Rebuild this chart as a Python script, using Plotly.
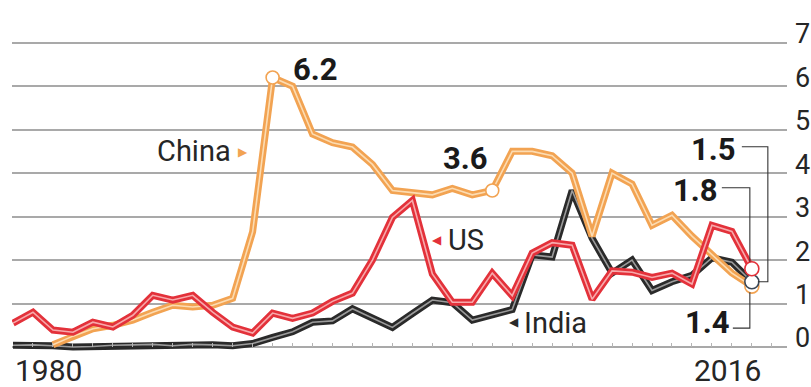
import plotly.graph_objects as go

# Foreign direct investment, net inflows (% of GDP)
years = list(range(1980, 2018))

us = [0.55, 0.80, 0.39, 0.34, 0.57, 0.46, 0.73, 1.19, 1.08, 1.19,
      0.80, 0.46, 0.32, 0.78, 0.66, 0.78, 1.05, 1.24, 2.00, 2.98,
      3.37, 1.68, 1.03, 1.03, 1.70, 1.18, 2.16, 2.40, 2.34, 1.10,
      1.75, 1.72, 1.60, 1.70, 1.45, 2.80, 2.66, 1.8]

china = [None, None, 0.05, 0.25, 0.42, 0.50, 0.62, 0.80, 0.96, 0.92,
         0.96, 1.12, 2.65, 6.2, 6.00, 4.90, 4.70, 4.60, 4.20, 3.60,
         3.55, 3.50, 3.65, 3.50, 3.6, 4.50, 4.50, 4.40, 4.00, 2.55,
         4.00, 3.75, 2.80, 3.03, 2.55, 2.12, 1.70, 1.4]

india = [0.04, 0.05, 0.03, 0.00, 0.01, 0.04, 0.05, 0.06, 0.03, 0.06,
         0.05, 0.03, 0.08, 0.22, 0.35, 0.57, 0.60, 0.88, 0.66, 0.45,
         0.77, 1.08, 1.02, 0.62, 0.74, 0.86, 2.12, 2.07, 3.60, 2.50,
         1.70, 2.00, 1.30, 1.50, 1.65, 2.05, 1.95, 1.5]

y_ticks = [0, 1, 2, 3, 4, 5, 6, 7]
x_labels = {1980: "1980", 2016: "2016"}

# Highlighted China points and end-of-series values
china_peak_year, china_mid_year = 1993, 2004
end_year = years[-1]

RED, RED_IN = "#e3313a", "#f7a9ab"
ORANGE, ORANGE_IN = "#f2a352", "#fcdcb2"
DARK, DARK_IN = "#2a2a2a", "#9b9b9b"
TEXT = "#262626"
FONT = "Roboto, 'Open Sans', sans-serif"

Y_MIN, Y_MAX = -0.46, 7.591
X_MIN, X_MAX = 1979.95, 2018.76

fig = go.Figure()


def cased_line(values, outer, inner):
    # thick coloured stroke with a thin pale core
    fig.add_trace(go.Scatter(x=years, y=values, mode="lines",
                             line=dict(color=outer, width=7),
                             connectgaps=False, hoverinfo="skip"))
    fig.add_trace(go.Scatter(x=years, y=values, mode="lines",
                             line=dict(color=inner, width=1.6),
                             connectgaps=False, hoverinfo="skip"))


cased_line(india, DARK, DARK_IN)
cased_line(china, ORANGE, ORANGE_IN)
cased_line(us, RED, RED_IN)


def ring(x, y, edge, size=13):
    fig.add_trace(go.Scatter(x=[x], y=[y], mode="markers",
                             marker=dict(symbol="circle", size=size, color="white",
                                         line=dict(color=edge, width=1.6)),
                             hoverinfo="skip"))


ci = years.index(china_peak_year)
cm = years.index(china_mid_year)
ring(china_peak_year, china[ci], ORANGE)
ring(china_mid_year, china[cm], ORANGE)
ring(end_year, china[-1], ORANGE, 14)
ring(end_year, india[-1], "#3b4858", 14)
ring(end_year, us[-1], RED, 14)

annotations = []


def value_label(x, y, text, xanchor, xshift, yshift):
    annotations.append(dict(x=x, y=y, xref="x", yref="y", text=f"<b>{text}</b>",
                            showarrow=False, xanchor=xanchor, yanchor="middle",
                            xshift=xshift, yshift=yshift,
                            font=dict(family=FONT, size=31, color="#1a1a1a")))


value_label(china_peak_year, china[ci], f"{china[ci]}", "left", 18, 8)
value_label(china_mid_year, china[cm], f"{china[cm]}", "right", -2, 32)
value_label(end_year, india[-1], f"{india[-1]}", "right", -14, 132)
value_label(end_year, us[-1], f"{us[-1]}", "right", -32, 78)
value_label(end_year, china[-1], f"{china[-1]}", "right", -20, -36)


# series names with small pointers
def name_label(x, y, text, xanchor):
    annotations.append(dict(x=x, y=y, xref="x", yref="y", xanchor=xanchor,
                            yanchor="middle", showarrow=False, text=text,
                            font=dict(family=FONT, size=29, color=TEXT)))


def pointer(x, y, symbol, color):
    annotations.append(dict(x=x, y=y, xref="x", yref="y", xanchor="center",
                            yanchor="middle", showarrow=False, text=symbol,
                            font=dict(family=FONT, size=12, color=color)))


name_label(1991.0, 4.51, "China", "right")
pointer(1991.52, 4.49, "▶", ORANGE)
name_label(2001.68, 2.46, "US", "left")
pointer(2001.23, 2.46, "◀", RED)
name_label(2005.49, 0.56, "India", "left")
pointer(2005.09, 0.575, "◀", DARK)

# year labels under the axis
for yr, txt in x_labels.items():
    annotations.append(dict(x=yr, y=-0.009, xref="x", yref="paper", text=txt,
                            showarrow=False,
                            xanchor="left" if yr == years[0] else "center",
                            xshift=0 if yr == years[0] else -4,
                            yanchor="middle",
                            font=dict(family=FONT, size=30, color=TEXT)))


# thin leader brackets from the end values to their circles (pixel offsets)
def bracket(y_value, path):
    return dict(type="path", xref="x", yref="y", xsizemode="pixel", ysizemode="pixel",
                xanchor=end_year, yanchor=y_value, path=path,
                line=dict(color="#333333", width=1.1))


shapes = [
    bracket(india[-1], "M -10,135 L 16,135 L 16,0 L 6,0"),
    bracket(us[-1], "M -30,81 L -2,81 L -2,7"),
    bracket(china[-1], "M -19,-42 L -2,-42 L -2,-6"),
]

zero_pos = (0 - Y_MIN) / (Y_MAX - Y_MIN)

fig.update_layout(
    width=811, height=387,
    margin=dict(l=12, r=24, t=17, b=20, autoexpand=False),
    paper_bgcolor="white", plot_bgcolor="white",
    showlegend=False,
    annotations=annotations,
    shapes=shapes,
    xaxis=dict(range=[X_MIN, X_MAX], anchor="free", position=zero_pos,
               showgrid=False, zeroline=False, showline=False, automargin=False,
               ticks="inside", ticklen=4, tickwidth=1, tickcolor="#b5b5b5",
               tick0=1980, dtick=1, showticklabels=False),
    yaxis=dict(range=[Y_MIN, Y_MAX], side="right", tickvals=y_ticks,
               showgrid=True, gridcolor="#a9a9a9", gridwidth=2, automargin=False,
               zeroline=False, showline=False, ticks="",
               ticklabelstandoff=7, ticklabelshift=-9,
               tickfont=dict(family=FONT, size=27, color=TEXT)),
)

fig.write_html("out.html", config={"displayModeBar": False})
